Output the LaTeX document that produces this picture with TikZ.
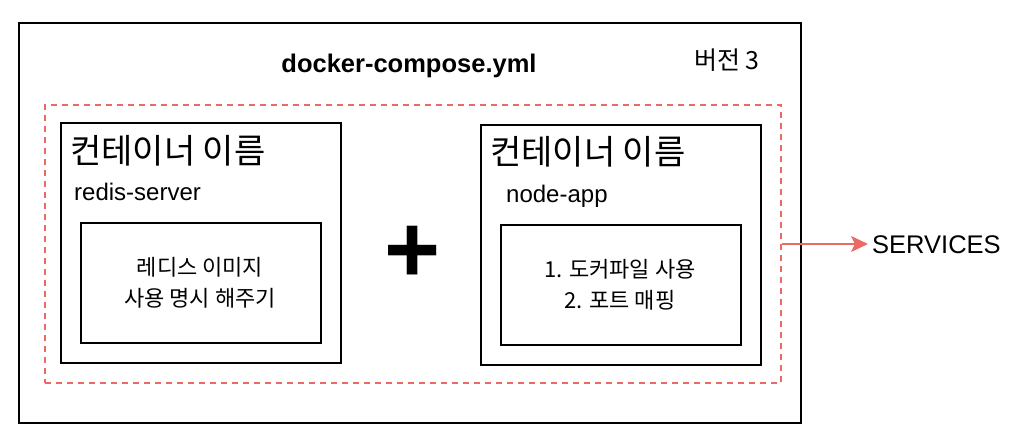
\documentclass[tikz,border=0pt]{standalone}
\usepackage{fontspec}
\setmainfont{Liberation Sans}
\newfontfamily\kr{Noto Sans CJK KR}
\usetikzlibrary{positioning,arrows.meta}
\definecolor{svcred}{HTML}{EA6B66}

\begin{document}
\begin{tikzpicture}[x=1pt, y=-1pt,
    box/.style={draw, rectangle, line width=2pt, inner sep=0pt},
    svcbox/.style={draw=svcred, rectangle, line width=2pt, dash pattern=on 6pt off 5pt, inner sep=0pt},
    label/.style={inner sep=0pt, font=\fontsize{24}{24}\selectfont},
    krtitle/.style={inner sep=0pt, font=\kr\fontsize{34}{34}\selectfont},
    krtext/.style={inner sep=0pt, align=center, font=\kr\fontsize{22}{31}\selectfont}]
					\useasboundingbox (0,0) rectangle (1020,444);
					\node[box, minimum width=782pt, minimum height=400pt] (compose) at (410,223) {};
					\node[label, font=\fontsize{25.5}{25.5}\selectfont\bfseries, anchor=base] (file) at (409,73) {docker-compose.yml};
					\node[label, font=\kr\fontsize{25}{25}\selectfont, anchor=base] (version) at (727,70) {버전 3};
					\node[svcbox, minimum width=736pt, minimum height=278pt] (services) at (413,244) {};
					\node[box, minimum width=280pt, minimum height=240pt] (redis) at (201,243) {};
					\node[box, minimum width=240pt, minimum height=120pt] (redisimg) at (201,283) {};
					\node[krtitle, anchor=base west] (redisname) at (70,163) {컨테이너 이름};
					\node[label, anchor=base west] (redistag) at (74,200) {redis-server};
					\node[krtext] (redistext) at (200,283) {레디스 이미지\\사용 명시 해주기};
					\node[box, minimum width=280pt, minimum height=240pt] (node) at (621,245) {};
					\node[box, minimum width=240pt, minimum height=120pt] (nodeimg) at (621,285) {};
					\node[krtitle, anchor=base west] (nodename) at (490,164) {컨테이너 이름};
					\node[label, anchor=base west] (nodetag) at (506,202) {node-app};
					\node[krtext] (nodetext) at (620,285) {1. 도커파일 사용\\2. 포트 매핑};
					\node[inner sep=0pt, font=\fontsize{96}{96}\selectfont\bfseries] (plus) at (412.5,254) {+};
					\node[label, font=\fontsize{25.5}{25.5}\selectfont, inner sep=4pt, anchor=base west] (svclabel) at (868,253) {SERVICES};
					\draw[-{Stealth[length=17pt, width=16pt, inset=4pt]}, draw=svcred, fill=svcred, line width=1.5pt] (services.east) -- (services.east -| svclabel.west);
				\end{tikzpicture}
\end{document}
